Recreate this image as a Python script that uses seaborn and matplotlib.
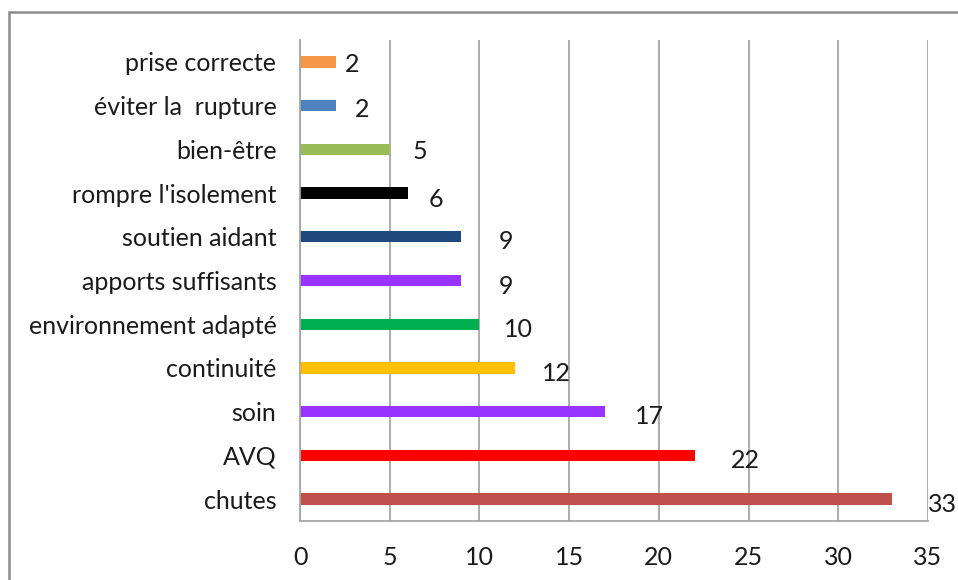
import matplotlib
matplotlib.use("Agg")
import matplotlib.pyplot as plt
from matplotlib.patches import Rectangle
import seaborn as sns
import pandas as pd

categories = ["prise correcte", "éviter la  rupture", "bien-être", "rompre l'isolement",
              "soutien aidant", "apports suffisants", "environnement adapté", "continuité",
              "soin", "AVQ", "chutes"]
values = [2, 2, 5, 6, 9, 9, 10, 12, 17, 22, 33]
colors = ["#F79646", "#4F81BD", "#9BBB59", "#000000", "#1F497D", "#9933FF",
          "#00B050", "#FFC000", "#9933FF", "#FF0000", "#C0504D"]
x_ticks = [0, 5, 10, 15, 20, 25, 30, 35]

# horizontal nudges of the value labels (data units) and vertical nudges (category units)
label_dx = [0.9, 1.45, 1.7, 1.6, 2.5, 2.5, 2.2, 2.3, 2.5, 2.8, 2.8]
label_dy = [0.07, 0.1, 0.05, 0.14, 0.1, 0.13, 0.12, 0.12, 0.11, 0.11, 0.12]

sns.set_theme(style="white")
plt.rcParams["font.family"] = ["Lato", "DejaVu Sans"]

df = pd.DataFrame({"cat": categories, "val": values})

fig = plt.figure(figsize=(9.58, 5.80), dpi=100)
ax = fig.add_axes([300 / 958, 1 - 521 / 580, 628 / 958, 481 / 580])

sns.barplot(data=df, y="cat", x="val", hue="cat", palette=colors, order=categories,
            hue_order=categories, orient="h", width=0.26, legend=False, ax=ax,
            saturation=1, edgecolor="none")

ax.set_xlim(0, 35)
ax.set_ylim(len(categories) - 0.5, -0.5)
ax.set_xticks(x_ticks)
ax.set_xticklabels([str(t) for t in x_ticks])
ax.set_xlabel("")
ax.set_ylabel("")
ax.xaxis.grid(True, color="#A6A6A6", linewidth=1.3)
ax.yaxis.grid(False)
ax.set_axisbelow(True)
ax.tick_params(axis="both", length=0, labelsize=18, colors="#1a1a1a")
ax.tick_params(axis="y", pad=17)
ax.tick_params(axis="x", pad=18)

for side in ["top", "right"]:
    ax.spines[side].set_visible(False)
for side in ["left", "bottom"]:
    ax.spines[side].set_color("#A6A6A6")
    ax.spines[side].set_linewidth(1.3)

for i, (v, dx, dy) in enumerate(zip(values, label_dx, label_dy)):
    ax.text(v + dx, i + dy, str(v), ha="center", va="center", fontsize=18,
            color="#1a1a1a", clip_on=False)

# chart frame, its right and bottom edges run past the figure
frame_top = 1 - 12 / 580
fig.patches.append(Rectangle((9 / 958, -0.2), 1.2, frame_top + 0.2,
                             transform=fig.transFigure, fill=False,
                             edgecolor="#8C8C8C", linewidth=1.8, clip_on=False))

fig.savefig("out.png", dpi=100)
